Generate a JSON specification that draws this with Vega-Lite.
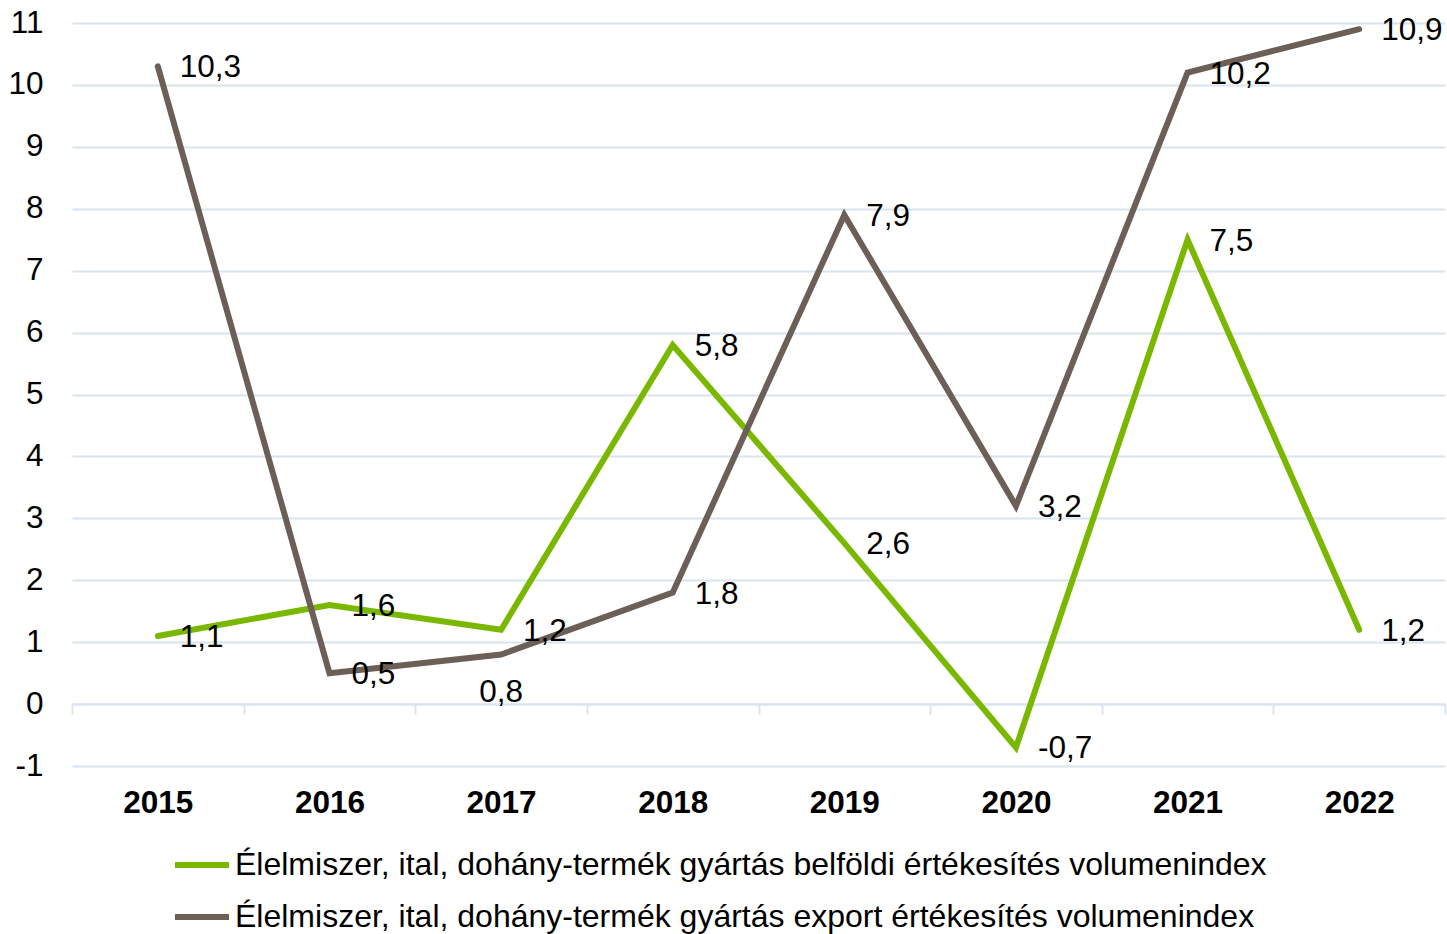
{
  "$schema": "https://vega.github.io/schema/vega-lite/v6.json",
  "width": 1373,
  "height": 743,
  "autosize": {"type": "none"},
  "padding": {"left": 72, "top": 23, "right": 2, "bottom": 168},
  "background": "white",
  "config": {
    "font": "Liberation Sans",
    "view": {"stroke": null},
    "locale": {"number": {"decimal": ",", "thousands": " ", "grouping": [3], "currency": ["", ""], "minus": "-"}}
  },
  "data": {
    "values": [
      {"year": "2015", "series": "Élelmiszer, ital, dohány-termék gyártás belföldi értékesítés volumenindex", "value": 1.1},
      {"year": "2016", "series": "Élelmiszer, ital, dohány-termék gyártás belföldi értékesítés volumenindex", "value": 1.6},
      {"year": "2017", "series": "Élelmiszer, ital, dohány-termék gyártás belföldi értékesítés volumenindex", "value": 1.2},
      {"year": "2018", "series": "Élelmiszer, ital, dohány-termék gyártás belföldi értékesítés volumenindex", "value": 5.8},
      {"year": "2019", "series": "Élelmiszer, ital, dohány-termék gyártás belföldi értékesítés volumenindex", "value": 2.6},
      {"year": "2020", "series": "Élelmiszer, ital, dohány-termék gyártás belföldi értékesítés volumenindex", "value": -0.7},
      {"year": "2021", "series": "Élelmiszer, ital, dohány-termék gyártás belföldi értékesítés volumenindex", "value": 7.5},
      {"year": "2022", "series": "Élelmiszer, ital, dohány-termék gyártás belföldi értékesítés volumenindex", "value": 1.2},
      {"year": "2015", "series": "Élelmiszer, ital, dohány-termék gyártás export értékesítés volumenindex", "value": 10.3},
      {"year": "2016", "series": "Élelmiszer, ital, dohány-termék gyártás export értékesítés volumenindex", "value": 0.5},
      {"year": "2017", "series": "Élelmiszer, ital, dohány-termék gyártás export értékesítés volumenindex", "value": 0.8},
      {"year": "2018", "series": "Élelmiszer, ital, dohány-termék gyártás export értékesítés volumenindex", "value": 1.8},
      {"year": "2019", "series": "Élelmiszer, ital, dohány-termék gyártás export értékesítés volumenindex", "value": 7.9},
      {"year": "2020", "series": "Élelmiszer, ital, dohány-termék gyártás export értékesítés volumenindex", "value": 3.2},
      {"year": "2021", "series": "Élelmiszer, ital, dohány-termék gyártás export értékesítés volumenindex", "value": 10.2},
      {"year": "2022", "series": "Élelmiszer, ital, dohány-termék gyártás export értékesítés volumenindex", "value": 10.9}
    ]
  },
  "encoding": {
    "x": {
      "field": "year",
      "type": "ordinal",
      "scale": {"type": "band", "paddingInner": 0, "paddingOuter": 0},
      "axis": {
        "orient": "bottom",
        "offset": -62,
        "tickBand": "extent",
        "domainColor": "#d9e4f1",
        "domainWidth": 2,
        "tickColor": "#d9e4f1",
        "tickWidth": 2,
        "tickSize": 10,
        "labelFontSize": 31.5,
        "labelFontWeight": "bold",
        "labelColor": "#000000",
        "labelPadding": 73,
        "labelAngle": 0,
        "title": null,
        "grid": false
      }
    },
    "y": {
      "field": "value",
      "type": "quantitative",
      "scale": {"domain": [-1, 11], "nice": false, "zero": false},
      "axis": {
        "values": [-1, 0, 1, 2, 3, 4, 5, 6, 7, 8, 9, 10, 11],
        "format": "d",
        "grid": true,
        "gridColor": "#d9e4f1",
        "gridWidth": 2,
        "domain": false,
        "ticks": false,
        "labelFontSize": 31.5,
        "labelPadding": 29,
        "labelColor": "#000000",
        "title": null
      }
    }
  },
  "layer": [
    {
      "mark": {"type": "line", "strokeWidth": 6, "strokeCap": "round", "strokeJoin": "miter"},
      "encoding": {
        "color": {
          "field": "series",
          "type": "nominal",
          "scale": {
            "domain": [
              "Élelmiszer, ital, dohány-termék gyártás belföldi értékesítés volumenindex",
              "Élelmiszer, ital, dohány-termék gyártás export értékesítés volumenindex"
            ],
            "range": ["#7ab800", "#6b5f58"]
          },
          "legend": {
            "orient": "none",
            "legendX": 100,
            "legendY": 812,
            "direction": "vertical",
            "title": null,
            "symbolType": "stroke",
            "symbolSize": 2916,
            "symbolStrokeWidth": 6,
            "labelFontSize": 32,
            "labelFont": "Liberation Sans",
            "labelColor": "#000000",
            "labelOffset": 3,
            "rowPadding": 6,
            "labelLimit": 0,
            "padding": 0
          }
        }
      }
    },
    {
      "transform": [{"filter": "!(datum.year == '2017' && datum.value == 0.8)"}],
      "mark": {"type": "text", "align": "left", "baseline": "middle", "dx": 22, "dy": 2, "fontSize": 31.5, "color": "#000000"},
      "encoding": {"text": {"field": "value", "type": "quantitative", "format": ".1f"}}
    },
    {
      "transform": [{"filter": "datum.year == '2017' && datum.value == 0.8"}],
      "mark": {"type": "text", "align": "center", "baseline": "middle", "dy": 38, "fontSize": 31.5, "color": "#000000"},
      "encoding": {"text": {"field": "value", "type": "quantitative", "format": ".1f"}}
    }
  ]
}
